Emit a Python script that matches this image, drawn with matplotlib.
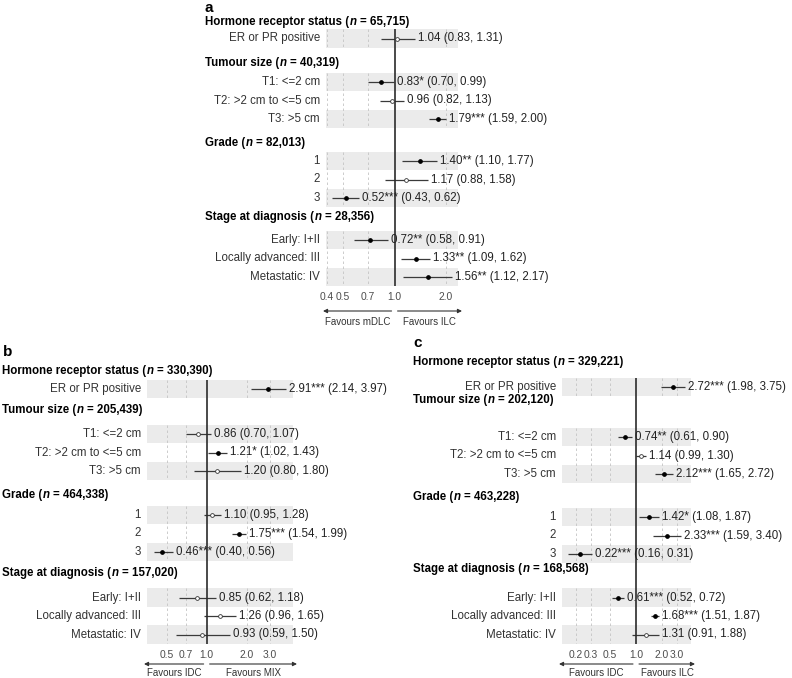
import numpy as np
import matplotlib
matplotlib.use("Agg")
import matplotlib.pyplot as plt
import matplotlib.transforms as mtransforms

plt.rcParams['font.family'] = ['Liberation Sans', 'DejaVu Sans']

# ---- data ----
row_labels = [["ER or PR positive"],
              ["T1: <=2 cm", "T2: >2 cm to <=5 cm", "T3: >5 cm"],
              ["1", "2", "3"],
              ["Early: I+II", "Locally advanced: III", "Metastatic: IV"]]
group_names = ["Hormone receptor status", "Tumour size", "Grade", "Stage at diagnosis"]

# panel a: mDLC vs ILC
a_n = ["65,715", "40,319", "82,013", "28,356"]
a_or = [1.04, 0.83, 0.96, 1.79, 1.40, 1.17, 0.52, 0.72, 1.33, 1.56]
a_lo = [0.83, 0.70, 0.82, 1.59, 1.10, 0.88, 0.43, 0.58, 1.09, 1.12]
a_hi = [1.31, 0.99, 1.13, 2.00, 1.77, 1.58, 0.62, 0.91, 1.62, 2.17]
a_stars = ["", "*", "", "***", "**", "", "***", "**", "**", "**"]
a_ticks = [0.4, 0.5, 0.7, 1.0, 2.0]
a_favours = ["Favours mDLC", "Favours ILC"]

# panel b: IDC vs MIX
b_n = ["330,390", "205,439", "464,338", "157,020"]
b_or = [2.91, 0.86, 1.21, 1.20, 1.10, 1.75, 0.46, 0.85, 1.26, 0.93]
b_lo = [2.14, 0.70, 1.02, 0.80, 0.95, 1.54, 0.40, 0.62, 0.96, 0.59]
b_hi = [3.97, 1.07, 1.43, 1.80, 1.28, 1.99, 0.56, 1.18, 1.65, 1.50]
b_stars = ["***", "", "*", "", "", "***", "***", "", "", ""]
b_ticks = [0.5, 0.7, 1.0, 2.0, 3.0]
b_favours = ["Favours IDC", "Favours MIX"]

# panel c: IDC vs ILC
c_n = ["329,221", "202,120", "463,228", "168,568"]
c_or = [2.72, 0.74, 1.14, 2.12, 1.42, 2.33, 0.22, 0.61, 1.68, 1.31]
c_lo = [1.98, 0.61, 0.99, 1.65, 1.08, 1.59, 0.16, 0.52, 1.51, 0.91]
c_hi = [3.75, 0.90, 1.30, 2.72, 1.87, 3.40, 0.31, 0.72, 1.87, 1.88]
c_stars = ["***", "**", "", "***", "*", "***", "***", "***", "***", ""]
c_ticks = [0.2, 0.3, 0.5, 1.0, 2.0, 3.0]
c_favours = ["Favours IDC", "Favours ILC"]

W, H = 792, 678
fig = plt.figure(figsize=(W / 100, H / 100), dpi=100)
renderer = fig.canvas.get_renderer()

BAND = "#ebebeb"
GRID = "#c4c4c4"
DARK = "#333333"
FS = 8.3
TICK_FS = 7.4
FAV_FS = 7.0
STEP = 18.5


def header(ax, x_px, y, name, n):
    # bold header with an italic bold "n", drawn piece by piece
    tr = mtransforms.blended_transform_factory(mtransforms.IdentityTransform(), ax.transData)
    t1 = ax.text(x_px, y, name + " (", transform=tr, ha='left', va='center',
                 fontsize=FS, fontweight='bold', color='black', clip_on=False)
    x = t1.get_window_extent(renderer).x1 + 0.3
    t2 = ax.text(x, y, "n", transform=tr, ha='left', va='center', fontsize=FS,
                 fontweight='bold', fontstyle='italic', color='black', clip_on=False)
    x = t2.get_window_extent(renderer).x1 + 3.3
    ax.text(x, y, "= " + n + ")", transform=tr, ha='left', va='center',
            fontsize=FS, fontweight='bold', color='black', clip_on=False)


def panel(letter, letter_xy, n, est, lo, hi, stars, ticks, favours,
          xbox, first_rows, head_y, header_x, tick_y, arrow_y, fav_y):
    # x limits: data range plus 5% in log space
    l0, l1 = np.log10(min(lo)), np.log10(max(hi))
    pad = (l1 - l0) * 0.05
    xlim = (10 ** (l0 - pad), 10 ** (l1 + pad))

    rows_y = []
    for g, labs in enumerate(row_labels):
        rows_y.append([first_rows[g] + STEP * i for i in range(len(labs))])
    ytop = rows_y[0][0] - STEP / 2
    ybot = rows_y[-1][-1] + STEP / 2

    ax = fig.add_axes([xbox[0] / W, 1 - ybot / H, (xbox[1] - xbox[0]) / W, (ybot - ytop) / H])
    ax.set_xscale('log')
    ax.set_xlim(xlim)
    ax.set_ylim(ybot, ytop)
    for s in ax.spines.values():
        s.set_visible(False)
    ax.set_yticks([])
    ax.xaxis.set_minor_locator(matplotlib.ticker.NullLocator())
    ax.set_xticks(ticks)
    ax.set_xticklabels(["%.1f" % t for t in ticks])
    ax.tick_params(axis='x', length=0, labelsize=TICK_FS, labelcolor="#4d4d4d",
                   pad=(tick_y - ybot) * 0.72 - TICK_FS / 2)

    lab_tr = mtransforms.offset_copy(ax.get_yaxis_transform(), fig, x=-6, units='dots')
    est_tr = mtransforms.offset_copy(ax.transData, fig, x=3, units='dots')

    k = 0
    for g, labs in enumerate(row_labels):
        ys = rows_y[g]
        header(ax, header_x, head_y[g], group_names[g], n[g])
        for t in ticks:
            if t != 1.0:
                ax.vlines(t, ys[0] - STEP / 2, ys[-1] + STEP / 2, colors=GRID,
                          linestyles=(0, (3, 3)), linewidth=0.6, zorder=1)
        for i, lab in enumerate(labs):
            y = ys[i]
            if i % 2 == 0:
                ax.axhspan(y - STEP / 2, y + STEP / 2, color=BAND, zorder=0, lw=0)
            ax.text(0, y, lab, transform=lab_tr, ha='right', va='center',
                    fontsize=FS, color=DARK, clip_on=False)
            ax.plot([lo[k], hi[k]], [y, y], color="#3a3a3a", lw=0.9, zorder=3,
                    solid_capstyle='butt')
            if stars[k]:
                ax.plot(est[k], y, 'o', ms=2.4, mfc='black', mec='black', zorder=4)
            else:
                ax.plot(est[k], y, 'o', ms=2.7, mfc='white', mec='#333333', mew=0.6, zorder=4)
            ax.text(hi[k], y, "%.2f%s (%.2f, %.2f)" % (est[k], stars[k], lo[k], hi[k]),
                    transform=est_tr, ha='left', va='center', fontsize=FS,
                    color="#222222", clip_on=False, zorder=5)
            k += 1

    ax.axvline(1.0, color="#2b2b2b", lw=1.2, zorder=3.5)

    # arrows under the axis
    f1 = (0 - np.log10(xlim[0])) / (np.log10(xlim[1]) - np.log10(xlim[0]))
    wpx = xbox[1] - xbox[0]
    ay = H - arrow_y
    left_end, right_end = -3 / wpx, 1 + 4 / wpx
    gap = 3 / wpx
    arr = dict(arrowstyle='-|>', color=DARK, lw=0.8, mutation_scale=6,
               shrinkA=0, shrinkB=0)
    ax.annotate('', xy=(left_end, ay), xycoords=('axes fraction', 'figure pixels'),
                xytext=(f1 - gap, ay), textcoords=('axes fraction', 'figure pixels'),
                arrowprops=arr)
    ax.annotate('', xy=(right_end, ay), xycoords=('axes fraction', 'figure pixels'),
                xytext=(f1 + gap, ay), textcoords=('axes fraction', 'figure pixels'),
                arrowprops=arr)
    ax.annotate(favours[0], xy=((left_end + f1 - gap) / 2, H - fav_y),
                xycoords=('axes fraction', 'figure pixels'), ha='center', va='center',
                fontsize=FAV_FS, color=DARK)
    ax.annotate(favours[1], xy=((right_end + f1 + gap) / 2, H - fav_y),
                xycoords=('axes fraction', 'figure pixels'), ha='center', va='center',
                fontsize=FAV_FS, color=DARK)

    fig.text(letter_xy[0] / W, 1 - letter_xy[1] / H, letter, fontsize=11,
             fontweight='bold', ha='left', va='center')


panel("a", (205, 8), a_n, a_or, a_lo, a_hi, a_stars, a_ticks, a_favours,
      (326, 458), [38.5, 82, 161, 240], [22, 63, 143, 217], 205, 297, 311, 322)
panel("b", (3, 352), b_n, b_or, b_lo, b_hi, b_stars, b_ticks, b_favours,
      (147, 293), [389, 434, 515, 597.5], [371, 410, 495, 573], 2, 655, 664, 673)
panel("c", (413, 343), c_n, c_or, c_lo, c_hi, c_stars, c_ticks, c_favours,
      (562, 691), [387, 437, 517, 597.5], [362, 400, 497, 569], 413, 655, 664, 673)

fig.savefig("out.png", dpi=100)
